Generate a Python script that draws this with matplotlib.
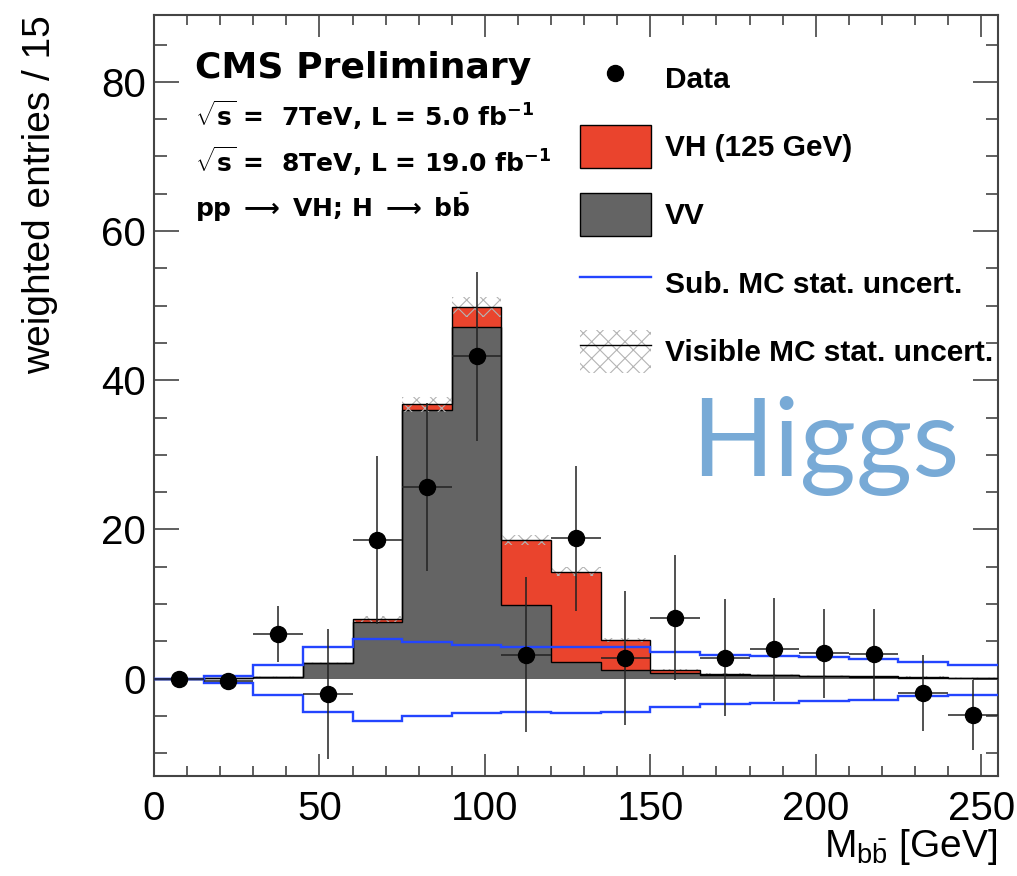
import numpy as np
import matplotlib
matplotlib.use("Agg")
import matplotlib.pyplot as plt
from matplotlib.patches import Patch
from matplotlib.lines import Line2D
from matplotlib.legend_handler import HandlerTuple
from matplotlib.ticker import MultipleLocator

plt.rcParams['font.family'] = ['Liberation Sans', 'DejaVu Sans']
plt.rcParams['mathtext.fontset'] = 'custom'
plt.rcParams['mathtext.rm'] = 'Liberation Sans'
plt.rcParams['mathtext.it'] = 'Liberation Sans:italic'
plt.rcParams['mathtext.bf'] = 'DejaVu Sans:bold'
plt.rcParams['hatch.linewidth'] = 0.8

# Dijet invariant mass binning: 17 bins of 15 GeV
bin_edges = np.arange(0, 256, 15)
bin_centers = 0.5 * (bin_edges[:-1] + bin_edges[1:])

# Diboson (VV) expectation
vv_yield = [0.0, 0.1, 0.2, 2.05, 7.65, 36.0, 47.2, 9.9, 2.3, 1.15,
            0.8, 0.55, 0.45, 0.35, 0.25, 0.15, 0.1]
# VH signal (m_H = 125 GeV)
vh_yield = [0.0, 0.0, 0.0, 0.05, 0.35, 0.8, 2.65, 8.7, 12.05, 4.05,
            0.35, 0.05, 0.05, 0.05, 0.05, 0.05, 0.05]
# Statistical uncertainty of the visible MC (VV + VH)
visible_mc_err = [0.0, 0.05, 0.1, 0.15, 0.4, 1.0, 1.35, 0.65, 0.65, 0.25,
                  0.15, 0.1, 0.1, 0.1, 0.1, 0.1, 0.1]
# Statistical uncertainty of the subtracted backgrounds
sub_mc_up = [0.0, 0.4, 1.85, 4.3, 5.3, 4.9, 4.5, 4.3, 4.2, 4.3,
             3.6, 3.2, 3.05, 2.85, 2.65, 2.3, 1.85]
sub_mc_down = [0.0, -0.6, -2.2, -4.5, -5.65, -4.95, -4.65, -4.5, -4.65, -4.4,
               -3.75, -3.45, -3.3, -2.95, -2.8, -2.3, -2.2]
# Background-subtracted data
data_y = [0.0, -0.3, 6.0, -2.05, 18.6, 25.7, 43.2, 3.2, 18.8, 2.8,
          8.2, 2.8, 3.95, 3.4, 3.3, -1.95, -4.85]
data_err = [0.0, 0.0, 3.8, 8.7, 11.3, 11.2, 11.3, 10.4, 9.7, 9.0,
            8.4, 7.85, 6.9, 6.0, 6.1, 5.1, 4.7]

vv = np.array(vv_yield)
total = vv + np.array(vh_yield)
mc_err = np.array(visible_mc_err)

RED = '#ea442d'
GRAY = '#646464'
BLUE = '#2345ff'
HATCH = '#b4b4b4'

fig = plt.figure(figsize=(10.17, 8.76), dpi=100)
ax = fig.add_axes([154/1017, 1 - 775.7/876, (997.7 - 154)/1017, (775.7 - 14.7)/876])

# Stacked expectation
ax.stairs(vv, bin_edges, baseline=0, fill=True, facecolor=GRAY, edgecolor='none', zorder=1)
ax.stairs(total, bin_edges, baseline=vv, fill=True, facecolor=RED, edgecolor='none', zorder=1)
ax.stairs(vv, bin_edges, baseline=None, color='black', lw=1.0, zorder=2)
# MC statistical band (hatched)
ax.stairs(total + mc_err, bin_edges, baseline=total - mc_err, fill=True,
          facecolor='none', edgecolor=HATCH, hatch='xx', lw=0, zorder=3)
ax.stairs(total, bin_edges, baseline=None, color='black', lw=1.0, zorder=3)

# Subtracted-MC uncertainty envelope
ax.stairs(sub_mc_up, bin_edges, baseline=None, color=BLUE, lw=1.7, zorder=4)
ax.stairs(sub_mc_down, bin_edges, baseline=None, color=BLUE, lw=1.7, zorder=4)

# Data
ax.errorbar(bin_centers, data_y, yerr=data_err, xerr=7.5, fmt='o', color='black',
            ecolor='#222222', elinewidth=1.1, markersize=11.5, capsize=0, zorder=5)

ax.set_xlim(0, 255)
ax.set_ylim(-13, 89)
ax.xaxis.set_major_locator(MultipleLocator(50))
ax.xaxis.set_minor_locator(MultipleLocator(10))
ax.yaxis.set_major_locator(MultipleLocator(20))
ax.yaxis.set_minor_locator(MultipleLocator(5))
ax.tick_params(which='both', direction='in', top=True, right=True, color='#444444', width=1.2)
ax.tick_params(axis='x', which='major', length=16, labelsize=29, pad=10)
ax.tick_params(axis='x', which='minor', length=7.5)
ax.tick_params(axis='y', which='major', length=18, labelsize=29, pad=6)
ax.tick_params(axis='y', which='minor', length=9)
for sp in ax.spines.values():
    sp.set_color('#444444')
    sp.set_linewidth(1.5)

fig.text(40/1017, 1 - 15/876, 'weighted entries / 15', rotation=90,
         ha='center', va='top', fontsize=28)
fig.text(997/1017, 1 - 857/876, r'M$_{\mathrm{b\bar{b}}}$ [GeV]', ha='right',
         va='baseline', fontsize=28)

# Header text
fig.text(195/1017, 1 - 77.7/876, 'CMS Preliminary', fontsize=26, fontweight='bold',
         family='DejaVu Sans', ha='left', va='baseline')
info_lines = [r'$\sqrt{\mathbf{s}}$ =  7TeV, L = 5.0 fb$\mathbf{^{-1}}$',
              r'$\sqrt{\mathbf{s}}$ =  8TeV, L = 19.0 fb$\mathbf{^{-1}}$',
              r'pp $\mathbf{\longrightarrow}$ VH; H $\mathbf{\longrightarrow}$ b$\mathbf{\bar{b}}$']
for txt, yb in zip(info_lines, [125.7, 171.7, 216.7]):
    fig.text(195/1017, 1 - yb/876, txt, fontsize=18, fontweight='bold',
             family='DejaVu Sans', ha='left', va='baseline')

# Legend
handles = [
    Line2D([], [], marker='o', color='black', ls='none', markersize=11.5),
    Patch(facecolor=RED, edgecolor='black', lw=1.0),
    Patch(facecolor=GRAY, edgecolor='black', lw=1.0),
    Line2D([], [], color=BLUE, lw=1.7),
    (Patch(facecolor='white', edgecolor=HATCH, hatch='xx', lw=0),
     Line2D([], [], color='black', lw=1.0)),
]
labels = ['Data', 'VH (125 GeV)', 'VV', 'Sub. MC stat. uncert.', 'Visible MC stat. uncert.']
leg = fig.legend(handles, labels, loc='upper left', bbox_to_anchor=(580/1017, 1 - 57/876),
                 frameon=False, prop={'weight': 'bold', 'size': 21.5},
                 handlelength=2.37, handleheight=1.83, handletextpad=0.47,
                 labelspacing=0.85, borderaxespad=0, borderpad=0,
                 handler_map={tuple: HandlerTuple(ndivide=1)})

# Annotation
fig.text(825/1017, 1 - 446/876, 'Higgs', fontsize=78, color='#78aad6',
         ha='center', va='center', family='Lato')

fig.savefig('out.png', dpi=100)
